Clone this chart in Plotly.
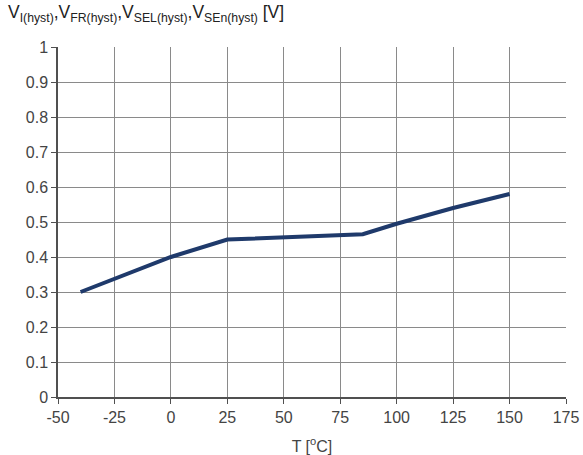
import plotly.graph_objects as go

# Hysteresis voltage vs junction temperature
temperature_c = [-40, 0, 25, 85, 100, 125, 150]
v_hyst = [0.30, 0.40, 0.45, 0.465, 0.495, 0.54, 0.58]

x_ticks = [-50, -25, 0, 25, 50, 75, 100, 125, 150, 175]
x_tick_text = ["-50", "-25", "0", "25", "50", "75", "100", "125", "150", "175"]
y_ticks = [0, 0.1, 0.2, 0.3, 0.4, 0.5, 0.6, 0.7, 0.8, 0.9, 1]
y_tick_text = ["0", "0.1", "0.2", "0.3", "0.4", "0.5", "0.6", "0.7", "0.8", "0.9", "1"]

font_family = "Liberation Sans, Arial, sans-serif"
text_color = "#444444"
grid_color = "#8a8a8a"
axis_color = "#505050"

fig = go.Figure()
fig.add_trace(go.Scatter(
    x=temperature_c, y=v_hyst, mode="lines",
    line=dict(color="#1f3a6b", width=4),
    hoverinfo="x+y",
))

fig.update_layout(
    width=583, height=455,
    margin=dict(l=58, r=17, t=47, b=58),
    paper_bgcolor="white", plot_bgcolor="white",
    font=dict(family=font_family, color=text_color, size=16),
    showlegend=False,
    title=dict(
        text="V<sub>I(hyst)</sub>,V<sub>FR(hyst)</sub>,V<sub>SEL(hyst)</sub>,V<sub>SEn(hyst)</sub> [V]",
        x=8 / 583, xref="container", xanchor="left",
        y=1 - 6 / 455, yref="container", yanchor="top",
        automargin=False,
        font=dict(size=17.5, color="#222222", family=font_family),
    ),
    xaxis=dict(
        range=[-50, 175], tickvals=x_ticks, ticktext=x_tick_text,
        showgrid=True, gridcolor=grid_color, gridwidth=1,
        showline=True, linecolor=axis_color, linewidth=1.5,
        ticks="outside", ticklen=5, tickcolor=axis_color,
        zeroline=False, ticklabeloverflow="allow", automargin=False,
        tickfont=dict(size=16, color=text_color),
        title=dict(text="T [<sup>o</sup>C]", font=dict(size=16, color=text_color), standoff=17),
    ),
    yaxis=dict(
        range=[0, 1], tickvals=y_ticks, ticktext=y_tick_text,
        showgrid=True, gridcolor=grid_color, gridwidth=1,
        showline=True, linecolor=axis_color, linewidth=1.5,
        ticks="outside", ticklen=5, tickcolor=axis_color,
        zeroline=False, ticklabeloverflow="allow", automargin=False,
        tickfont=dict(size=16, color=text_color),
    ),
)

fig.write_html("out.html")
